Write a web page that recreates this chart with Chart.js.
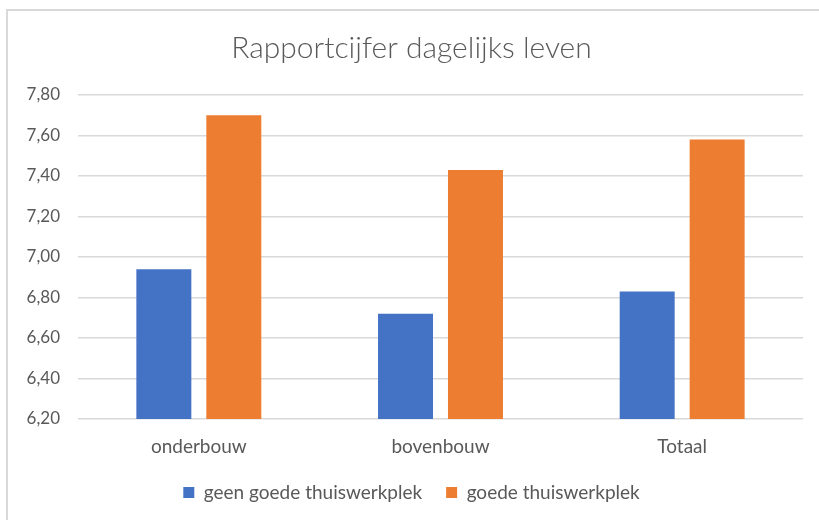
<!DOCTYPE html>
<html>
<head>
<meta charset="utf-8">
<script src="https://cdn.jsdelivr.net/npm/chart.js@4/dist/chart.umd.min.js"></script>
<style>
  html, body { margin: 0; padding: 0; background: #fff; overflow: hidden; }
  #frame { position: absolute; left: 6px; top: 9px; width: 830px; height: 530px; border: 2px solid #d9d9d9; }
  #wrap { position: absolute; left: 0; top: 0; width: 836px; height: 520px; }
</style>
</head>
<body>
<div id="frame"></div>
<div id="wrap"><canvas id="chart"></canvas></div>
<script>
// chart data
const categories = ["onderbouw", "bovenbouw", "Totaal"];
const seriesNames = ["geen goede thuiswerkplek", "goede thuiswerkplek"];
const geenGoede = [6.94, 6.72, 6.83];
const goede = [7.70, 7.43, 7.58];
const yMin = 6.2, yMax = 7.8, yStep = 0.2;

const grey = "#595959";
const fontFamily = "Lato, 'Open Sans', sans-serif";

new Chart(document.getElementById("chart"), {
  type: 'bar',
  data: {
    labels: categories,
    datasets: [
      { label: seriesNames[0], data: geenGoede, backgroundColor: "#4472C4" },
      { label: seriesNames[1], data: goede, backgroundColor: "#ED7D31" }
    ]
  },
  options: {
    responsive: true,
    maintainAspectRatio: false,
    animation: false,
    datasets: { bar: { categoryPercentage: 0.579, barPercentage: 0.786 } },
    layout: { padding: { left: 20, right: 33, top: 30, bottom: 8 } },
    plugins: {
      tooltip: { enabled: false },
      title: {
        display: true,
        text: "Rapportcijfer dagelijks leven",
        color: grey,
        font: { family: fontFamily, size: 30, weight: 300 },
        padding: { top: 0, bottom: 29 }
      },
      legend: {
        position: 'bottom',
        labels: {
          color: grey,
          font: { family: fontFamily, size: 19 },
          boxWidth: 11,
          boxHeight: 11,
          padding: 24
        }
      }
    },
    scales: {
      x: {
        grid: { display: false, drawTicks: false },
        border: { display: false },
        ticks: { color: grey, font: { family: fontFamily, size: 19 }, padding: 16 },
        afterFit: function(scale) { scale.height = 40; }
      },
      y: {
        min: yMin,
        max: yMax,
        border: { display: false },
        grid: { color: "#d9d9d9", lineWidth: 1.5, drawTicks: false },
        ticks: {
          stepSize: yStep,
          color: grey,
          font: { family: fontFamily, size: 17 },
          padding: 18,
          callback: function(v) { return v.toFixed(2).replace('.', ','); }
        },
        afterFit: function(scale) { scale.width = 58; }
      }
    }
  }
});
</script>
</body>
</html>
